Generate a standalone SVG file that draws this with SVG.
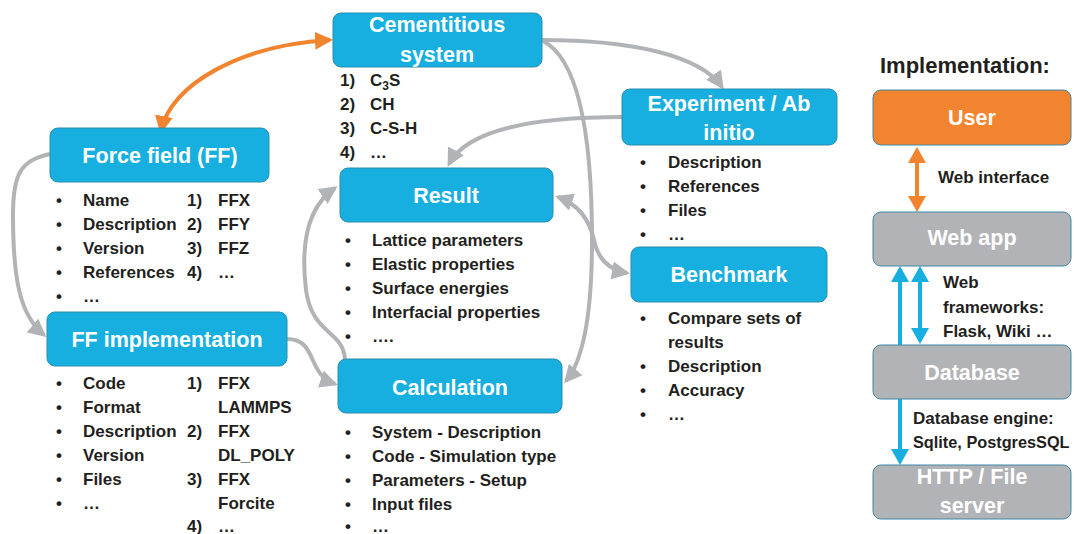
<svg xmlns="http://www.w3.org/2000/svg" width="1074" height="534" viewBox="0 0 1074 534">
  <style>
    .box-blue { fill: #17afe0; stroke: #2b8db0; stroke-width: 1; }
    .box-grey { fill: #b1b3b6; stroke: #3f87a6; stroke-width: 1; }
    .box-orange { fill: #f2842f; stroke: #3f87a6; stroke-width: 1; }
    .title { font-family: "Liberation Sans", Arial, sans-serif; font-weight: bold; font-size: 21.5px; fill: #ffffff; text-anchor: middle; }
    .item { font-family: "Liberation Sans", Arial, sans-serif; font-weight: bold; font-size: 17px; fill: #231f20; }
    .heading { font-family: "Liberation Sans", Arial, sans-serif; font-weight: bold; font-size: 22px; fill: #231f20; }
    .link-grey { fill: none; stroke: #b1b3b6; stroke-width: 4; }
    .link-orange { fill: none; stroke: #f2842f; stroke-width: 4; }
    .link-blue { fill: none; stroke: #17afe0; stroke-width: 4; }
  </style>
  <defs>
    <marker id="head-grey" viewBox="0 0 18 18" refX="15" refY="9" markerWidth="18" markerHeight="18" markerUnits="userSpaceOnUse" orient="auto-start-reverse">
      <path d="M0,0 L18,9 L0,18 z" fill="#b1b3b6"/>
    </marker>
    <marker id="head-orange" viewBox="0 0 18 18" refX="15" refY="9" markerWidth="18" markerHeight="18" markerUnits="userSpaceOnUse" orient="auto-start-reverse">
      <path d="M0,0 L18,9 L0,18 z" fill="#f2842f"/>
    </marker>
    <marker id="head-orange-v" viewBox="0 0 16 18" refX="13" refY="9" markerWidth="16" markerHeight="18" markerUnits="userSpaceOnUse" orient="auto-start-reverse">
      <path d="M0,0 L16,9 L0,18 z" fill="#f2842f"/>
    </marker>
    <marker id="head-blue-v" viewBox="0 0 16 18" refX="13" refY="9" markerWidth="16" markerHeight="18" markerUnits="userSpaceOnUse" orient="auto-start-reverse">
      <path d="M0,0 L16,9 L0,18 z" fill="#17afe0"/>
    </marker>
  </defs>

  <rect width="1074" height="534" fill="#ffffff"/>

  <!-- connectors -->
  <g id="connectors">
    <path class="link-orange" d="M161,131 C170,85 240,45 330,40" marker-start="url(#head-orange)" marker-end="url(#head-orange)"/>
    <path class="link-grey" d="M50,154 C20,160 13,175 13,215 C13,280 20,315 44,335" marker-end="url(#head-grey)"/>
    <path class="link-grey" d="M287,339 C318,339 306,374 335,384" marker-end="url(#head-grey)"/>
    <path class="link-grey" d="M345,359 C343,330 312,335 306,290 C300,240 310,205 335,188" marker-end="url(#head-grey)"/>
    <path class="link-grey" d="M622,117 C540,117 468,128 449,164" marker-end="url(#head-grey)"/>
    <path class="link-grey" d="M542,40 C630,40 700,55 722,87" marker-end="url(#head-grey)"/>
    <path class="link-grey" d="M543,41 C580,60 592,140 592,240 C592,320 582,362 566,381" marker-end="url(#head-grey)"/>
    <path class="link-grey" d="M558,197 C580,205 590,222 594,240 C598,260 610,270 627,273" marker-start="url(#head-grey)" marker-end="url(#head-grey)"/>
    <path class="link-orange" d="M917,150 L917,209" marker-start="url(#head-orange-v)" marker-end="url(#head-orange-v)"/>
    <path class="link-blue" d="M900,345 L900,269" marker-end="url(#head-blue-v)"/>
    <path class="link-blue" d="M920,269 L920,341" marker-start="url(#head-blue-v)" marker-end="url(#head-blue-v)"/>
    <path class="link-blue" d="M900,399 L900,462" marker-end="url(#head-blue-v)"/>
  </g>

  <!-- Cementitious system -->
  <g id="cementitious">
    <rect class="box-blue" x="333" y="13" width="209" height="54" rx="8"/>
    <text class="title" x="437" y="32">Cementitious</text>
    <text class="title" x="437" y="62">system</text>
    <text class="item" x="340" y="86">1)</text>
    <text class="item" x="370" y="86">C<tspan font-size="12" dy="4">3</tspan><tspan dy="-4">S</tspan></text>
    <text class="item" x="340" y="110">2)</text>
    <text class="item" x="370" y="110">CH</text>
    <text class="item" x="340" y="134">3)</text>
    <text class="item" x="370" y="134">C-S-H</text>
    <text class="item" x="340" y="158">4)</text>
    <text class="item" x="370" y="158">…</text>
  </g>

  <!-- Force field (FF) -->
  <g id="force-field">
    <rect class="box-blue" x="50" y="128" width="219" height="54" rx="8"/>
    <text class="title" x="160" y="163">Force field (FF)</text>
    <text class="item" x="56" y="206">•</text><text class="item" x="83" y="206">Name</text>
    <text class="item" x="56" y="230">•</text><text class="item" x="83" y="230">Description</text>
    <text class="item" x="56" y="254">•</text><text class="item" x="83" y="254">Version</text>
    <text class="item" x="56" y="278">•</text><text class="item" x="83" y="278">References</text>
    <text class="item" x="56" y="302">•</text><text class="item" x="83" y="302">…</text>
    <text class="item" x="187" y="206">1)</text><text class="item" x="218" y="206">FFX</text>
    <text class="item" x="187" y="230">2)</text><text class="item" x="218" y="230">FFY</text>
    <text class="item" x="187" y="254">3)</text><text class="item" x="218" y="254">FFZ</text>
    <text class="item" x="187" y="278">4)</text><text class="item" x="218" y="278">…</text>
  </g>

  <!-- FF implementation -->
  <g id="ff-implementation">
    <rect class="box-blue" x="47" y="312" width="240" height="54" rx="8"/>
    <text class="title" x="167" y="347">FF implementation</text>
    <text class="item" x="56" y="389">•</text><text class="item" x="83" y="389">Code</text>
    <text class="item" x="56" y="413">•</text><text class="item" x="83" y="413">Format</text>
    <text class="item" x="56" y="437">•</text><text class="item" x="83" y="437">Description</text>
    <text class="item" x="56" y="461">•</text><text class="item" x="83" y="461">Version</text>
    <text class="item" x="56" y="485">•</text><text class="item" x="83" y="485">Files</text>
    <text class="item" x="56" y="509">•</text><text class="item" x="83" y="509">…</text>
    <text class="item" x="187" y="389">1)</text><text class="item" x="218" y="389">FFX</text>
    <text class="item" x="218" y="413">LAMMPS</text>
    <text class="item" x="187" y="437">2)</text><text class="item" x="218" y="437">FFX</text>
    <text class="item" x="218" y="461">DL_POLY</text>
    <text class="item" x="187" y="485">3)</text><text class="item" x="218" y="485">FFX</text>
    <text class="item" x="218" y="509">Forcite</text>
    <text class="item" x="187" y="532">4)</text><text class="item" x="218" y="532">…</text>
  </g>

  <!-- Result -->
  <g id="result">
    <rect class="box-blue" x="340" y="168" width="213" height="54" rx="8"/>
    <text class="title" x="446" y="203">Result</text>
    <text class="item" x="345" y="246">•</text><text class="item" x="372" y="246">Lattice parameters</text>
    <text class="item" x="345" y="270">•</text><text class="item" x="372" y="270">Elastic properties</text>
    <text class="item" x="345" y="294">•</text><text class="item" x="372" y="294">Surface energies</text>
    <text class="item" x="345" y="318">•</text><text class="item" x="372" y="318">Interfacial properties</text>
    <text class="item" x="345" y="342">•</text><text class="item" x="372" y="342">….</text>
  </g>

  <!-- Calculation -->
  <g id="calculation">
    <rect class="box-blue" x="338" y="359" width="224" height="54" rx="8"/>
    <text class="title" x="450" y="395">Calculation</text>
    <text class="item" x="345" y="438">•</text><text class="item" x="372" y="438">System - Description</text>
    <text class="item" x="345" y="462">•</text><text class="item" x="372" y="462">Code - Simulation type</text>
    <text class="item" x="345" y="486">•</text><text class="item" x="372" y="486">Parameters - Setup</text>
    <text class="item" x="345" y="510">•</text><text class="item" x="372" y="510">Input files</text>
    <text class="item" x="345" y="532">•</text><text class="item" x="372" y="532">…</text>
  </g>

  <!-- Experiment / Ab initio -->
  <g id="experiment">
    <rect class="box-blue" x="622" y="89" width="215" height="56" rx="8"/>
    <text class="title" x="729" y="111">Experiment / Ab</text>
    <text class="title" x="729" y="140">initio</text>
    <text class="item" x="640" y="168">•</text><text class="item" x="668" y="168">Description</text>
    <text class="item" x="640" y="192">•</text><text class="item" x="668" y="192">References</text>
    <text class="item" x="640" y="216">•</text><text class="item" x="668" y="216">Files</text>
    <text class="item" x="640" y="240">•</text><text class="item" x="668" y="240">…</text>
  </g>

  <!-- Benchmark -->
  <g id="benchmark">
    <rect class="box-blue" x="631" y="247" width="196" height="55" rx="8"/>
    <text class="title" x="729" y="282">Benchmark</text>
    <text class="item" x="640" y="324">•</text><text class="item" x="668" y="324">Compare sets of</text>
    <text class="item" x="668" y="348">results</text>
    <text class="item" x="640" y="372">•</text><text class="item" x="668" y="372">Description</text>
    <text class="item" x="640" y="396">•</text><text class="item" x="668" y="396">Accuracy</text>
    <text class="item" x="640" y="420">•</text><text class="item" x="668" y="420">…</text>
  </g>

  <!-- Implementation stack -->
  <text class="heading" x="880" y="73">Implementation:</text>

  <g id="user">
    <rect class="box-orange" x="873" y="90" width="198" height="55" rx="8"/>
    <text class="title" x="972" y="125">User</text>
  </g>
  <text class="item" x="938" y="183">Web interface</text>

  <g id="web-app">
    <rect class="box-grey" x="873" y="212" width="198" height="54" rx="8"/>
    <text class="title" x="972" y="245">Web app</text>
  </g>
  <text class="item" x="943" y="288">Web</text>
  <text class="item" x="943" y="313">frameworks:</text>
  <text class="item" x="943" y="337">Flask, Wiki …</text>

  <g id="database">
    <rect class="box-grey" x="873" y="345" width="198" height="54" rx="8"/>
    <text class="title" x="972" y="380">Database</text>
  </g>
  <text class="item" x="913" y="424" font-size="16.5">Database engine:</text>
  <text class="item" x="913" y="448" font-size="16.5" style="font-size:16.3px">Sqlite, PostgresSQL</text>

  <g id="http-server">
    <rect class="box-grey" x="873" y="465" width="198" height="54" rx="8"/>
    <text class="title" x="972" y="484">HTTP / File</text>
    <text class="title" x="972" y="513">server</text>
  </g>
</svg>
